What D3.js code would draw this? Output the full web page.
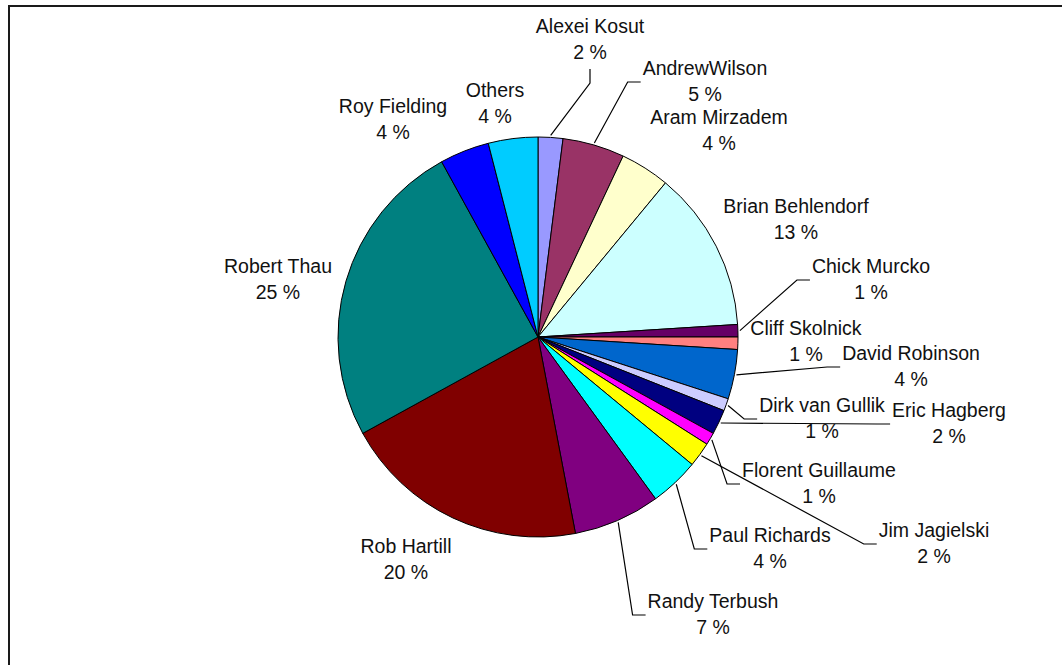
<!DOCTYPE html>
<html>
<head>
<meta charset="utf-8">
<script src="https://cdn.jsdelivr.net/npm/d3@7"></script>
<style>
  html, body { margin: 0; padding: 0; background: #fff; }
  svg { display: block; }
  text { font-family: "Liberation Sans", Arial, sans-serif; font-size: 19.5px; fill: #111; }
</style>
</head>
<body>
<svg id="chart" width="1062" height="665"></svg>
<script>
// Contributors and their share of the work, clockwise from 12 o'clock
const names = [
  "Alexei Kosut", "AndrewWilson", "Aram Mirzadem", "Brian Behlendorf",
  "Chick Murcko", "Cliff Skolnick", "David Robinson", "Dirk van Gullik",
  "Eric Hagberg", "Florent Guillaume", "Jim Jagielski", "Paul Richards",
  "Randy Terbush", "Rob Hartill", "Robert Thau", "Roy Fielding", "Others"
];
const shares = [2, 5, 4, 13, 1, 1, 4, 1, 2, 1, 2, 4, 7, 20, 25, 4, 4];
const colors = [
  "#9999ff", "#993366", "#ffffcc", "#ccffff", "#660066", "#ff8080",
  "#0066cc", "#ccccff", "#000080", "#ff00ff", "#ffff00", "#00ffff",
  "#800080", "#800000", "#008080", "#0000ff", "#00ccff"
];

// Label placement: centre x and first baseline y of each two-line label,
// and how its leader line (if any) joins it.
const labelX = [590, 705, 719, 796, 871, 806, 911, 822, 949, 819, 934, 770, 713, 406, 278, 393, 495];
const labelY = [33, 75, 124, 213, 273, 335, 360, 412, 417, 477, 537, 542, 608, 553, 273, 113, 97];
const leaderSide = ["bottom", "left", null, null, "left", null, "left", "left",
                    "left", "left", "left", "left", "left", null, null, null, null];

const W = 1062, H = 665;
const cx = 538, cy = 337, R = 200;
const lineGap = 26;

const svg = d3.select("#chart");

// chart frame: left and top edges
svg.append("path")
  .attr("d", d3.line()([[9, H], [9, 6], [W, 6]]))
  .attr("fill", "none")
  .attr("stroke", "#1a1a1a")
  .attr("stroke-width", 2);

const color = d3.scaleOrdinal().domain(names).range(colors);

const pie = d3.pie().sort(null).value(d => d.value).startAngle(0).endAngle(2 * Math.PI);
const data = names.map((n, i) => ({ name: n, value: shares[i], i }));
const arcs = pie(data);

const arc = d3.arc().innerRadius(0).outerRadius(R);

const g = svg.append("g").attr("transform", `translate(${cx},${cy})`);

g.selectAll("path.slice")
  .data(arcs)
  .join("path")
  .attr("class", "slice")
  .attr("d", arc)
  .attr("fill", d => color(d.data.name))
  .attr("stroke", "#000")
  .attr("stroke-width", 1)
  .attr("stroke-linejoin", "round");

// labels and leader lines
const labels = svg.append("g");
const leaders = svg.append("g");

arcs.forEach(a => {
  const i = a.data.i;
  const t = labels.append("text")
    .attr("text-anchor", "middle")
    .attr("x", labelX[i])
    .attr("y", labelY[i]);
  t.append("tspan").attr("x", labelX[i]).text(a.data.name);
  t.append("tspan").attr("x", labelX[i]).attr("dy", lineGap).text(`${a.data.value} %`);

  const side = leaderSide[i];
  if (!side) return;

  const bb = t.node().getBBox();
  const mid = (a.startAngle + a.endAngle) / 2;
  const r0 = R + 2;
  const start = [cx + r0 * Math.sin(mid), cy - r0 * Math.cos(mid)];
  let pts;
  if (side === "left") {
    const my = bb.y + bb.height / 2 + 1;
    const ex = bb.x - 2;
    pts = [start, [ex - 13, my], [ex, my]];
  } else {
    const bx = labelX[i];
    const by = bb.y + bb.height;
    pts = [start, [bx, by + 20], [bx, by + 6]];
  }
  leaders.append("path")
    .attr("d", d3.line()(pts))
    .attr("fill", "none")
    .attr("stroke", "#000")
    .attr("stroke-width", 1.2);
});
</script>
</body>
</html>
